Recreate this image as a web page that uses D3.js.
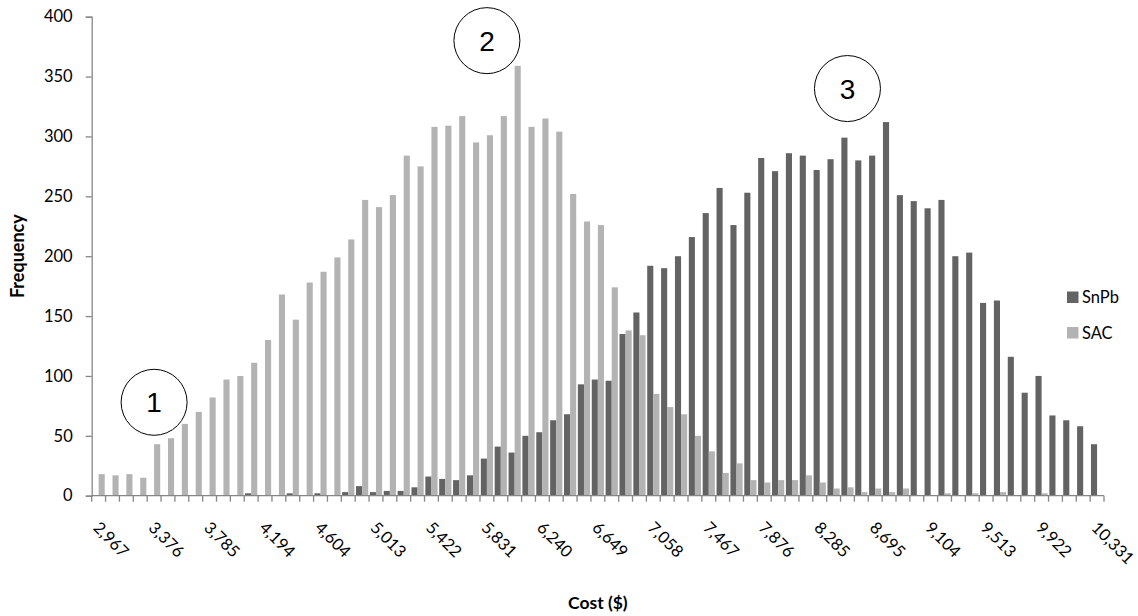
<!DOCTYPE html>
<html>
<head>
<meta charset="utf-8">
<script src="https://cdn.jsdelivr.net/npm/d3@7/dist/d3.min.js"></script>
<style>
  body { margin: 0; background: #fff; }
  svg { display: block; }
  text { font-family: Lato, "Open Sans", sans-serif; fill: #000; }
</style>
</head>
<body>
<div id="chart"></div>
<script>

var seriesNames = ['SnPb', 'SAC'];

var snpb = [0, 0, 0, 0, 0, 0, 0, 0, 0, 0,
  0, 2, 0, 0, 2, 0, 2, 0, 3, 8,
  3, 4, 4, 7, 16, 14, 13, 17, 31, 41,
  36, 50, 53, 63, 68, 93, 97, 96, 135, 153,
  192, 190, 200, 216, 236, 257, 226, 253, 282, 271,
  286, 284, 272, 281, 299, 280, 284, 312, 251, 246,
  240, 247, 200, 203, 161, 163, 116, 86, 100, 67,
  63, 58, 43];

var sac = [18, 17, 18, 15, 43, 48, 60, 70, 82, 97,
  100, 111, 130, 168, 147, 178, 187, 199, 214, 247,
  241, 251, 284, 275, 308, 309, 317, 295, 301, 317,
  359, 308, 315, 304, 252, 229, 226, 174, 138, 134,
  85, 74, 68, 50, 37, 19, 27, 13, 11, 13,
  13, 17, 11, 6, 7, 3, 6, 3, 6, 0,
  0, 2, 0, 2, 0, 3, 0, 0, 2, 0,
  0, 0, 0];

// one label every 4th bin
var tickLabels = ['2,967', '3,376', '3,785', '4,194', '4,604', '5,013', '5,422',
  '5,831', '6,240', '6,649', '7,058', '7,467', '7,876', '8,285', '8,695',
  '9,104', '9,513', '9,922', '10,331'];
var labelEvery = 4;

var yTicks = [0, 50, 100, 150, 200, 250, 300, 350, 400];

var callouts = [
  {label: '1', cat: 4, value: 78},
  {label: '2', cat: 28, value: 380},
  {label: '3', cat: 54, value: 340}
];

var colors = {'SnPb': '#636363', 'SAC': '#b3b3b3'};
var axisColor = '#868686';

var width = 1138, height = 616;
var margin = {top: 16.7, right: 34, bottom: 120.3, left: 91.7};
var plotW = width - margin.left - margin.right;
var plotH = height - margin.top - margin.bottom;

var svg = d3.select('#chart')
    .append('svg')
    .attr('width', width)
    .attr('height', height);

var g = svg.append('g')
    .attr('transform', 'translate(' + margin.left + ',' + margin.top + ')');

var cats = d3.range(snpb.length);

var x = d3.scaleBand()
    .domain(cats)
    .range([0, plotW])
    .paddingInner(0.12)
    .paddingOuter(0.06);

var xs = d3.scaleBand()
    .domain(seriesNames)
    .range([0, x.bandwidth()]);

var y = d3.scaleLinear()
    .domain([0, 400])
    .range([plotH, 0]);

var rows = cats.map(function(i) {
  return {cat: i, values: [{name: 'SnPb', v: snpb[i]}, {name: 'SAC', v: sac[i]}]};
});

g.selectAll('.cat')
    .data(rows)
    .enter()
    .append('g')
    .attr('class', 'cat')
    .attr('transform', function(d) { return 'translate(' + x(d.cat) + ',0)'; })
    .selectAll('rect')
    .data(function(d) { return d.values; })
    .enter()
    .append('rect')
    .attr('x', function(d) { return xs(d.name); })
    .attr('width', xs.bandwidth())
    .attr('y', function(d) { return y(d.v); })
    .attr('height', function(d) { return plotH - y(d.v); })
    .attr('fill', function(d) { return colors[d.name]; });

// y axis
var yAxis = g.append('g')
    .call(d3.axisLeft(y).tickValues(yTicks).tickSize(6).tickPadding(13));
yAxis.select('.domain').attr('stroke', axisColor).attr('stroke-width', 1.3);
yAxis.selectAll('.tick line').attr('stroke', axisColor).attr('stroke-width', 1.3);
yAxis.selectAll('.tick text')
    .style('font-size', '16.5px')
    .attr('fill', '#000');

// x axis: ticks on bin boundaries
var half = (x.step() - x.bandwidth()) / 2;
var bounds = cats.map(function(i) { return x(i) - half; });
bounds.push(x(cats[cats.length - 1]) + x.bandwidth() + half);

var xAxis = g.append('g')
    .attr('transform', 'translate(0,' + plotH + ')');
xAxis.append('line')
    .attr('x1', 0)
    .attr('x2', plotW)
    .attr('stroke', axisColor)
    .attr('stroke-width', 1.3);
xAxis.selectAll('.tk')
    .data(bounds)
    .enter()
    .append('line')
    .attr('class', 'tk')
    .attr('x1', function(d) { return d; })
    .attr('x2', function(d) { return d; })
    .attr('y1', 0)
    .attr('y2', 6)
    .attr('stroke', axisColor)
    .attr('stroke-width', 1.3);

xAxis.selectAll('.lbl')
    .data(tickLabels)
    .enter()
    .append('text')
    .attr('class', 'lbl')
    .attr('transform', function(d, i) {
      var c = i * labelEvery;
      var px = x(c) + x.bandwidth() / 2 - 6.5;
      return 'translate(' + px + ',33) rotate(45)';
    })
    .style('font-size', '16.5px')
    .text(function(d) { return d; });

// axis titles
svg.append('text')
    .attr('x', margin.left + plotW / 2)
    .attr('y', 609)
    .attr('text-anchor', 'middle')
    .style('font-size', '17.5px')
    .style('font-weight', 'bold')
    .text('Cost ($)');

svg.append('text')
    .attr('transform', 'translate(24,' + (margin.top + plotH / 2) + ') rotate(-90)')
    .attr('text-anchor', 'middle')
    .style('font-size', '18px')
    .style('font-weight', 'bold')
    .text('Frequency');

// legend
var legend = svg.append('g')
    .attr('transform', 'translate(1067,291.5)');
var li = legend.selectAll('g')
    .data(seriesNames)
    .enter()
    .append('g')
    .attr('transform', function(d, i) { return 'translate(0,' + (i * 35.5) + ')'; });
li.append('rect')
    .attr('width', 11.5)
    .attr('height', 11.5)
    .attr('fill', function(d) { return colors[d]; });
li.append('text')
    .attr('x', 15)
    .attr('y', 6)
    .attr('dy', '0.35em')
    .style('font-size', '16.5px')
    .text(function(d) { return d; });

// numbered callouts
var co = g.selectAll('.callout')
    .data(callouts)
    .enter()
    .append('g')
    .attr('class', 'callout')
    .attr('transform', function(d) {
      return 'translate(' + (x(d.cat) + x.bandwidth() / 2) + ',' + y(d.value) + ')';
    });
co.append('circle')
    .attr('r', 33)
    .attr('fill', '#fff')
    .attr('stroke', '#000')
    .attr('stroke-width', 1);
co.append('text')
    .attr('text-anchor', 'middle')
    .attr('dy', '0.36em')
    .style('font-family', '"Liberation Sans", Arial, sans-serif')
    .style('font-size', '28px')
    .text(function(d) { return d.label; });

</script>
</body>
</html>
